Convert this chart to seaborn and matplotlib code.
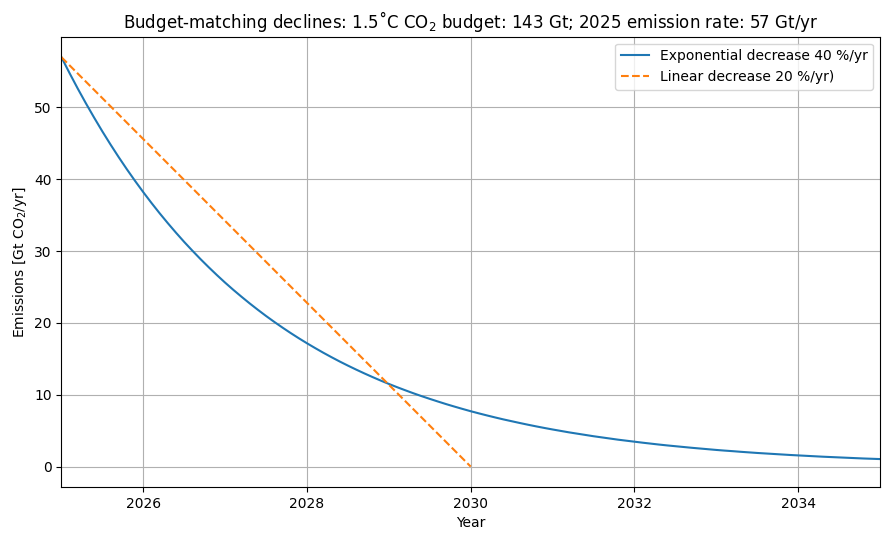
import matplotlib
matplotlib.use("Agg")
import matplotlib.pyplot as plt
import seaborn as sns
import pandas as pd

exp_years = [round(2025 + 0.1 * i, 1) for i in range(101)]
exp_values = [57.00, 54.77, 52.62, 50.56, 48.58, 46.67, 44.84, 43.08, 41.39, 39.77,
              38.21, 36.71, 35.27, 33.89, 32.56, 31.28, 30.06, 28.88, 27.75, 26.66,
              25.61, 24.61, 23.65, 22.72, 21.83, 20.97, 20.15, 19.36, 18.60, 17.87,
              17.17, 16.50, 15.85, 15.23, 14.63, 14.06, 13.51, 12.98, 12.47, 11.98,
              11.51, 11.06, 10.63, 10.21, 9.81, 9.43, 9.06, 8.70, 8.36, 8.03,
              7.71, 7.41, 7.12, 6.84, 6.57, 6.32, 6.07, 5.83, 5.60, 5.38,
              5.17, 4.97, 4.77, 4.59, 4.41, 4.23, 4.07, 3.91, 3.75, 3.61,
              3.47, 3.33, 3.20, 3.07, 2.95, 2.84, 2.73, 2.62, 2.52, 2.42,
              2.32, 2.23, 2.15, 2.06, 1.98, 1.90, 1.83, 1.76, 1.69, 1.62,
              1.56, 1.50, 1.44, 1.38, 1.33, 1.28, 1.23, 1.18, 1.13, 1.09,
              1.05]
lin_years = [2025, 2030]
lin_values = [57.0, 0.0]

exp_label = "Exponential decrease 40 %/yr"
lin_label = "Linear decrease 20 %/yr)"

df_exp = pd.DataFrame({"Year": exp_years, "Emissions": exp_values})
df_lin = pd.DataFrame({"Year": lin_years, "Emissions": lin_values})

fig, ax = plt.subplots(figsize=(8.9, 5.4), dpi=100)
sns.lineplot(data=df_exp, x="Year", y="Emissions", ax=ax, color="C0", label=exp_label)
sns.lineplot(data=df_lin, x="Year", y="Emissions", ax=ax, color="C1", linestyle="--", label=lin_label)

ax.set_xlim(2025, 2035)
ax.grid(True)
ax.set_xlabel("Year")
ax.set_ylabel("Emissions [Gt CO$_2$/yr]")
ax.set_title("Budget-matching declines: 1.5˚C CO$_2$ budget: 143 Gt; 2025 emission rate: 57 Gt/yr")
ax.legend(loc="upper right")
fig.subplots_adjust(left=0.069, right=0.9888, top=0.932, bottom=0.098)
fig.savefig("out.png", dpi=100)
